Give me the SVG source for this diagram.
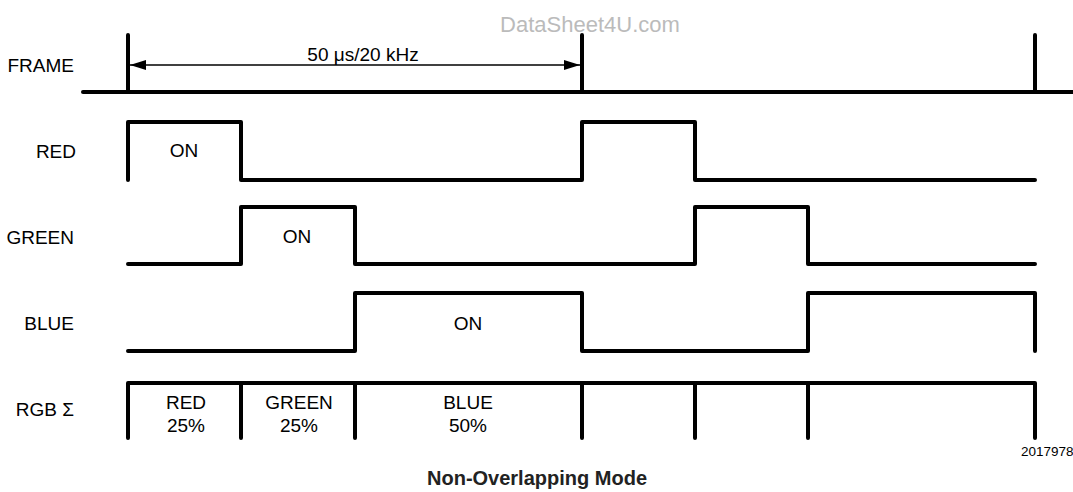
<svg xmlns="http://www.w3.org/2000/svg" width="1073" height="492" viewBox="0 0 1073 492">
<style>
.sig{fill:none;stroke:#000;stroke-width:4;stroke-linejoin:round;stroke-linecap:round}
.lbl{font-family:"Liberation Sans",Arial,sans-serif;font-size:19px;fill:#000}
.r{text-anchor:end}
.c{text-anchor:middle}
</style>
<defs>
<marker id="ah" viewBox="0 0 16 10" refX="16" refY="5" markerWidth="16" markerHeight="10" markerUnits="userSpaceOnUse" orient="auto-start-reverse">
<path d="M0,0 L16,5 L0,10 Z" fill="#000"/>
</marker>
</defs>
<rect width="1073" height="492" fill="#fff"/>
<text x="590" y="32" font-family="Liberation Sans,Arial,sans-serif" font-size="22" fill="#bbb" text-anchor="middle">DataSheet4U.com</text>
<g id="labels">
<text class="lbl r" x="74" y="72">FRAME</text>
<text class="lbl r" x="76" y="158">RED</text>
<text class="lbl r" x="74" y="244">GREEN</text>
<text class="lbl r" x="74" y="330">BLUE</text>
<text class="lbl r" x="74" y="416">RGB Σ</text>
</g>
<g id="frame">
<path class="sig" d="M83,92 H1075"/>
<path class="sig" d="M128,35 V92 M582,35 V92 M1035,35 V92"/>
<path d="M130,65 H580" stroke="#000" stroke-width="1.5" marker-start="url(#ah)" marker-end="url(#ah)"/>
<text class="lbl c" x="363" y="61">50 μs/20 kHz</text>
</g>
<g id="red">
<path class="sig" d="M128,180 V122 H241 V180 H582 V122 H695 V180 H1035"/>
<text class="lbl c" x="184" y="157">ON</text>
</g>
<g id="green">
<path class="sig" d="M128,264 H241 V207 H355 V264 H695 V207 H808 V264 H1035"/>
<text class="lbl c" x="297" y="243">ON</text>
</g>
<g id="blue">
<path class="sig" d="M128,351 H355 V293 H582 V351 H808 V293 H1035 V351"/>
<text class="lbl c" x="468" y="330">ON</text>
</g>
<g id="rgb">
<path class="sig" d="M128,438 V383 H1035 V438 M241,383 V438 M355,383 V438 M582,383 V438 M695,383 V438 M808,383 V438"/>
<text class="lbl c" x="186" y="409">RED</text>
<text class="lbl c" x="186" y="432">25%</text>
<text class="lbl c" x="299" y="409">GREEN</text>
<text class="lbl c" x="299" y="432">25%</text>
<text class="lbl c" x="468" y="409">BLUE</text>
<text class="lbl c" x="468" y="432">50%</text>
</g>
<text x="1021" y="456" font-family="Liberation Sans,Arial,sans-serif" font-size="13.5" fill="#000">2017978</text>
<text x="537" y="485" font-family="Liberation Sans,Arial,sans-serif" font-size="20" font-weight="bold" fill="#222" text-anchor="middle">Non-Overlapping Mode</text>
</svg>
